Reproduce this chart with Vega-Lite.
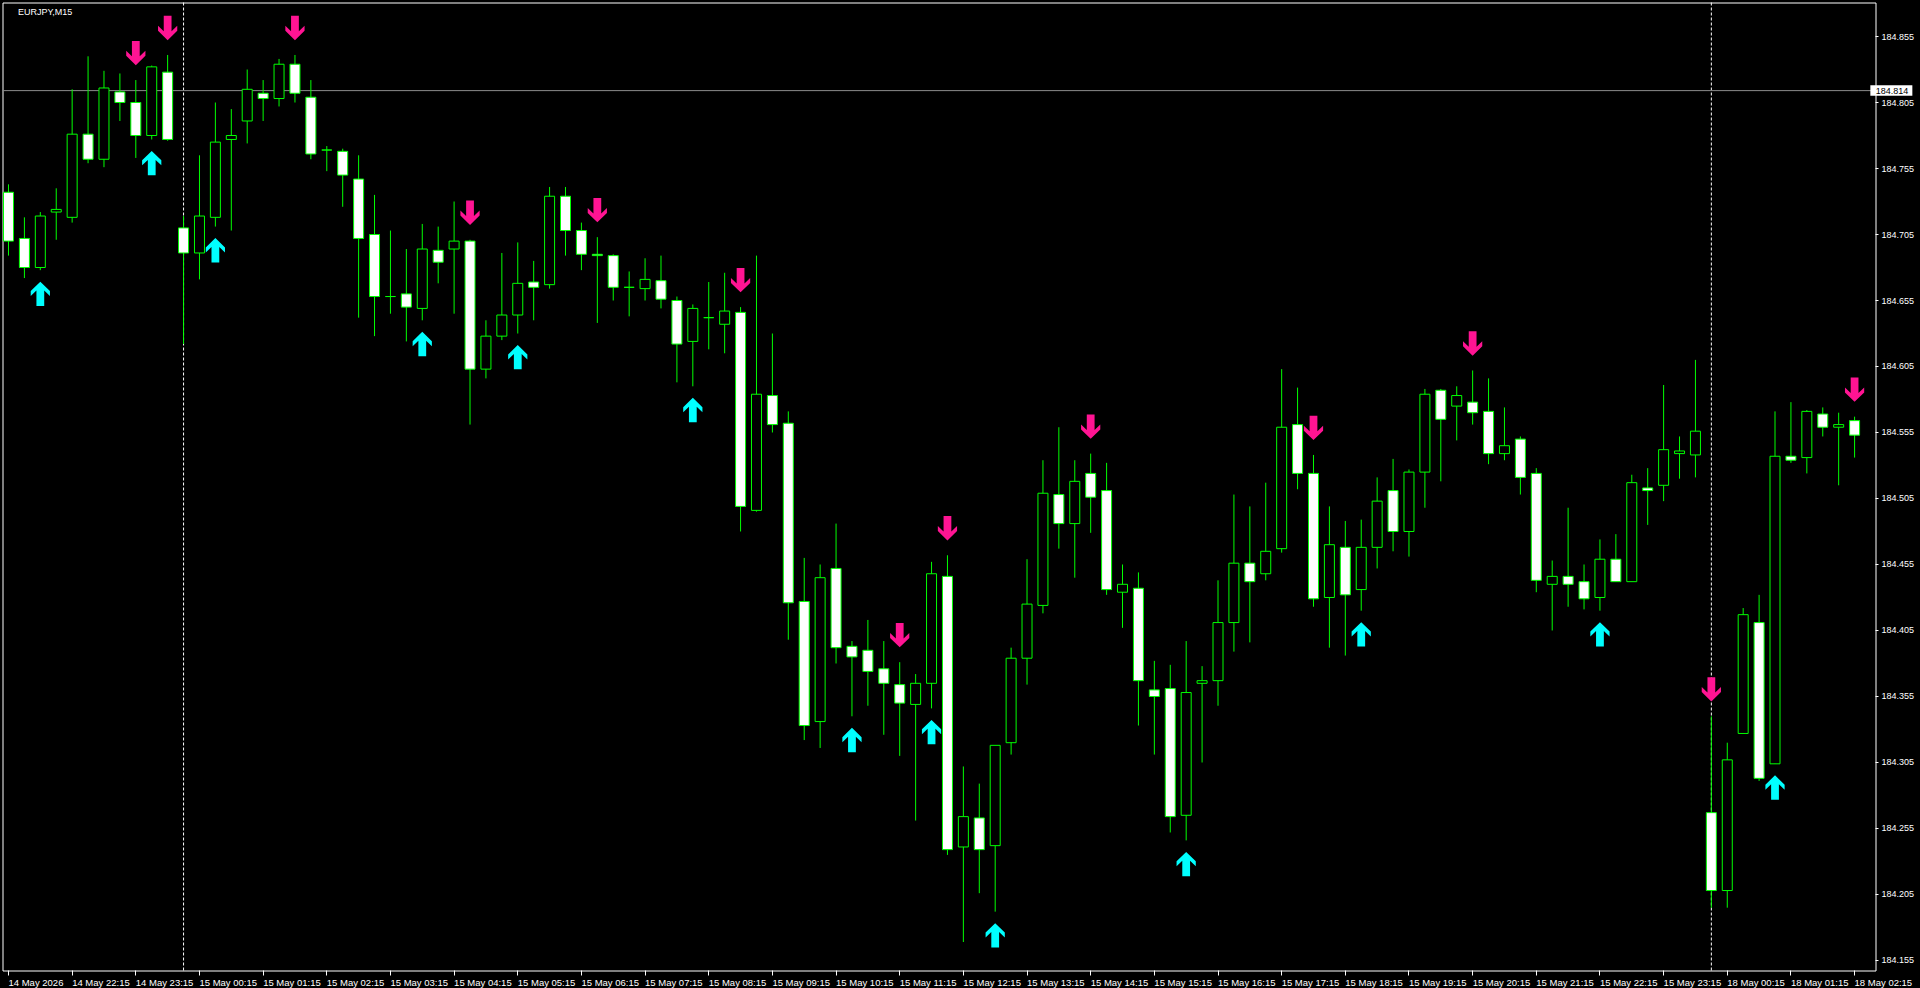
{
  "$schema": "https://vega.github.io/schema/vega-lite/v6.json",
  "width": 1873,
  "height": 968,
  "autosize": "none",
  "padding": {"left": 2.5, "top": 2.5, "right": 44.5, "bottom": 17.5},
  "background": "#000000",
  "title": {"text": "EURJPY,M15", "anchor": "start", "frame": "group", "offset": -8, "dx": 15.5, "dy": 10.7, "baseline": "middle", "color": "#FFFFFF", "font": "Liberation Sans", "fontSize": 9, "fontWeight": "normal"},
  "datasets": {
    "seps": [{"i": 11}, {"i": 107}],
    "level": [{"p": 184.814}],
    "bars": [
      {"i":0,"o":184.737,"h":184.743,"l":184.689,"c":184.700,"sig":""},
      {"i":1,"o":184.702,"h":184.718,"l":184.672,"c":184.680,"sig":""},
      {"i":2,"o":184.680,"h":184.722,"l":184.678,"c":184.719,"sig":"up"},
      {"i":3,"o":184.722,"h":184.740,"l":184.701,"c":184.724,"sig":""},
      {"i":4,"o":184.718,"h":184.815,"l":184.714,"c":184.781,"sig":""},
      {"i":5,"o":184.781,"h":184.840,"l":184.759,"c":184.762,"sig":""},
      {"i":6,"o":184.762,"h":184.829,"l":184.756,"c":184.816,"sig":""},
      {"i":7,"o":184.813,"h":184.827,"l":184.791,"c":184.805,"sig":""},
      {"i":8,"o":184.805,"h":184.822,"l":184.763,"c":184.780,"sig":"down"},
      {"i":9,"o":184.780,"h":184.833,"l":184.777,"c":184.832,"sig":"up"},
      {"i":10,"o":184.828,"h":184.841,"l":184.776,"c":184.777,"sig":"down"},
      {"i":11,"o":184.710,"h":184.719,"l":184.622,"c":184.691,"sig":""},
      {"i":12,"o":184.691,"h":184.765,"l":184.671,"c":184.719,"sig":""},
      {"i":13,"o":184.718,"h":184.805,"l":184.711,"c":184.775,"sig":"up"},
      {"i":14,"o":184.777,"h":184.800,"l":184.708,"c":184.780,"sig":""},
      {"i":15,"o":184.791,"h":184.830,"l":184.774,"c":184.815,"sig":""},
      {"i":16,"o":184.812,"h":184.822,"l":184.791,"c":184.808,"sig":""},
      {"i":17,"o":184.808,"h":184.838,"l":184.802,"c":184.834,"sig":""},
      {"i":18,"o":184.834,"h":184.841,"l":184.805,"c":184.812,"sig":"down"},
      {"i":19,"o":184.809,"h":184.822,"l":184.762,"c":184.766,"sig":""},
      {"i":20,"o":184.769,"h":184.772,"l":184.753,"c":184.769,"sig":""},
      {"i":21,"o":184.768,"h":184.770,"l":184.726,"c":184.750,"sig":""},
      {"i":22,"o":184.747,"h":184.765,"l":184.642,"c":184.702,"sig":""},
      {"i":23,"o":184.705,"h":184.735,"l":184.628,"c":184.658,"sig":""},
      {"i":24,"o":184.658,"h":184.708,"l":184.645,"c":184.658,"sig":""},
      {"i":25,"o":184.660,"h":184.694,"l":184.624,"c":184.650,"sig":""},
      {"i":26,"o":184.649,"h":184.713,"l":184.640,"c":184.694,"sig":"up"},
      {"i":27,"o":184.693,"h":184.711,"l":184.668,"c":184.684,"sig":""},
      {"i":28,"o":184.694,"h":184.730,"l":184.645,"c":184.700,"sig":""},
      {"i":29,"o":184.700,"h":184.701,"l":184.561,"c":184.603,"sig":"down"},
      {"i":30,"o":184.603,"h":184.640,"l":184.596,"c":184.628,"sig":""},
      {"i":31,"o":184.628,"h":184.691,"l":184.625,"c":184.644,"sig":""},
      {"i":32,"o":184.644,"h":184.699,"l":184.630,"c":184.668,"sig":"up"},
      {"i":33,"o":184.669,"h":184.685,"l":184.640,"c":184.665,"sig":""},
      {"i":34,"o":184.667,"h":184.741,"l":184.664,"c":184.734,"sig":""},
      {"i":35,"o":184.734,"h":184.741,"l":184.689,"c":184.708,"sig":""},
      {"i":36,"o":184.708,"h":184.714,"l":184.678,"c":184.690,"sig":""},
      {"i":37,"o":184.690,"h":184.703,"l":184.638,"c":184.689,"sig":"down"},
      {"i":38,"o":184.689,"h":184.690,"l":184.655,"c":184.665,"sig":""},
      {"i":39,"o":184.665,"h":184.677,"l":184.643,"c":184.665,"sig":""},
      {"i":40,"o":184.664,"h":184.687,"l":184.655,"c":184.671,"sig":""},
      {"i":41,"o":184.670,"h":184.689,"l":184.649,"c":184.656,"sig":""},
      {"i":42,"o":184.655,"h":184.658,"l":184.593,"c":184.622,"sig":""},
      {"i":43,"o":184.624,"h":184.652,"l":184.590,"c":184.649,"sig":"up"},
      {"i":44,"o":184.642,"h":184.669,"l":184.618,"c":184.642,"sig":""},
      {"i":45,"o":184.637,"h":184.676,"l":184.615,"c":184.647,"sig":""},
      {"i":46,"o":184.646,"h":184.650,"l":184.480,"c":184.499,"sig":"down"},
      {"i":47,"o":184.496,"h":184.689,"l":184.495,"c":184.584,"sig":""},
      {"i":48,"o":184.583,"h":184.630,"l":184.555,"c":184.561,"sig":""},
      {"i":49,"o":184.562,"h":184.571,"l":184.398,"c":184.426,"sig":""},
      {"i":50,"o":184.427,"h":184.460,"l":184.322,"c":184.333,"sig":""},
      {"i":51,"o":184.336,"h":184.455,"l":184.316,"c":184.445,"sig":""},
      {"i":52,"o":184.452,"h":184.486,"l":184.380,"c":184.392,"sig":""},
      {"i":53,"o":184.393,"h":184.397,"l":184.340,"c":184.385,"sig":"up"},
      {"i":54,"o":184.390,"h":184.413,"l":184.348,"c":184.374,"sig":""},
      {"i":55,"o":184.376,"h":184.397,"l":184.326,"c":184.365,"sig":""},
      {"i":56,"o":184.364,"h":184.381,"l":184.310,"c":184.350,"sig":"down"},
      {"i":57,"o":184.349,"h":184.372,"l":184.261,"c":184.365,"sig":""},
      {"i":58,"o":184.365,"h":184.457,"l":184.346,"c":184.448,"sig":"up"},
      {"i":59,"o":184.446,"h":184.462,"l":184.235,"c":184.239,"sig":"down"},
      {"i":60,"o":184.241,"h":184.302,"l":184.169,"c":184.264,"sig":""},
      {"i":61,"o":184.263,"h":184.289,"l":184.206,"c":184.239,"sig":""},
      {"i":62,"o":184.242,"h":184.318,"l":184.192,"c":184.318,"sig":"up"},
      {"i":63,"o":184.320,"h":184.392,"l":184.311,"c":184.384,"sig":""},
      {"i":64,"o":184.384,"h":184.459,"l":184.364,"c":184.425,"sig":""},
      {"i":65,"o":184.424,"h":184.534,"l":184.418,"c":184.509,"sig":""},
      {"i":66,"o":184.508,"h":184.559,"l":184.467,"c":184.486,"sig":""},
      {"i":67,"o":184.486,"h":184.534,"l":184.445,"c":184.518,"sig":""},
      {"i":68,"o":184.524,"h":184.539,"l":184.479,"c":184.506,"sig":"down"},
      {"i":69,"o":184.511,"h":184.532,"l":184.432,"c":184.436,"sig":""},
      {"i":70,"o":184.434,"h":184.455,"l":184.407,"c":184.440,"sig":""},
      {"i":71,"o":184.437,"h":184.449,"l":184.333,"c":184.367,"sig":""},
      {"i":72,"o":184.360,"h":184.382,"l":184.311,"c":184.355,"sig":""},
      {"i":73,"o":184.361,"h":184.379,"l":184.252,"c":184.264,"sig":""},
      {"i":74,"o":184.265,"h":184.397,"l":184.246,"c":184.358,"sig":"up"},
      {"i":75,"o":184.365,"h":184.378,"l":184.305,"c":184.367,"sig":""},
      {"i":76,"o":184.367,"h":184.443,"l":184.348,"c":184.411,"sig":""},
      {"i":77,"o":184.411,"h":184.508,"l":184.389,"c":184.456,"sig":""},
      {"i":78,"o":184.456,"h":184.499,"l":184.396,"c":184.442,"sig":""},
      {"i":79,"o":184.448,"h":184.517,"l":184.443,"c":184.465,"sig":""},
      {"i":80,"o":184.467,"h":184.603,"l":184.464,"c":184.559,"sig":""},
      {"i":81,"o":184.561,"h":184.589,"l":184.512,"c":184.524,"sig":""},
      {"i":82,"o":184.524,"h":184.538,"l":184.423,"c":184.429,"sig":"down"},
      {"i":83,"o":184.430,"h":184.499,"l":184.392,"c":184.470,"sig":""},
      {"i":84,"o":184.468,"h":184.488,"l":184.386,"c":184.432,"sig":""},
      {"i":85,"o":184.436,"h":184.489,"l":184.420,"c":184.468,"sig":"up"},
      {"i":86,"o":184.468,"h":184.521,"l":184.452,"c":184.503,"sig":""},
      {"i":87,"o":184.511,"h":184.535,"l":184.465,"c":184.480,"sig":""},
      {"i":88,"o":184.480,"h":184.527,"l":184.461,"c":184.525,"sig":""},
      {"i":89,"o":184.525,"h":184.588,"l":184.498,"c":184.584,"sig":""},
      {"i":90,"o":184.587,"h":184.588,"l":184.518,"c":184.565,"sig":""},
      {"i":91,"o":184.575,"h":184.590,"l":184.549,"c":184.583,"sig":""},
      {"i":92,"o":184.578,"h":184.602,"l":184.561,"c":184.570,"sig":"down"},
      {"i":93,"o":184.571,"h":184.596,"l":184.531,"c":184.539,"sig":""},
      {"i":94,"o":184.539,"h":184.574,"l":184.534,"c":184.545,"sig":""},
      {"i":95,"o":184.550,"h":184.552,"l":184.508,"c":184.521,"sig":""},
      {"i":96,"o":184.524,"h":184.528,"l":184.434,"c":184.443,"sig":""},
      {"i":97,"o":184.440,"h":184.458,"l":184.405,"c":184.446,"sig":""},
      {"i":98,"o":184.446,"h":184.498,"l":184.423,"c":184.440,"sig":""},
      {"i":99,"o":184.442,"h":184.455,"l":184.421,"c":184.429,"sig":""},
      {"i":100,"o":184.430,"h":184.474,"l":184.420,"c":184.459,"sig":"up"},
      {"i":101,"o":184.459,"h":184.478,"l":184.442,"c":184.442,"sig":""},
      {"i":102,"o":184.442,"h":184.523,"l":184.442,"c":184.517,"sig":""},
      {"i":103,"o":184.513,"h":184.528,"l":184.485,"c":184.511,"sig":""},
      {"i":104,"o":184.515,"h":184.591,"l":184.503,"c":184.542,"sig":""},
      {"i":105,"o":184.539,"h":184.552,"l":184.520,"c":184.541,"sig":""},
      {"i":106,"o":184.538,"h":184.610,"l":184.521,"c":184.556,"sig":""},
      {"i":107,"o":184.267,"h":184.340,"l":184.195,"c":184.208,"sig":"down"},
      {"i":108,"o":184.208,"h":184.320,"l":184.195,"c":184.307,"sig":""},
      {"i":109,"o":184.327,"h":184.422,"l":184.327,"c":184.417,"sig":""},
      {"i":110,"o":184.411,"h":184.432,"l":184.291,"c":184.293,"sig":""},
      {"i":111,"o":184.304,"h":184.571,"l":184.304,"c":184.537,"sig":"up"},
      {"i":112,"o":184.537,"h":184.578,"l":184.532,"c":184.534,"sig":""},
      {"i":113,"o":184.536,"h":184.572,"l":184.524,"c":184.571,"sig":""},
      {"i":114,"o":184.569,"h":184.574,"l":184.552,"c":184.559,"sig":""},
      {"i":115,"o":184.559,"h":184.570,"l":184.515,"c":184.561,"sig":""},
      {"i":116,"o":184.564,"h":184.567,"l":184.536,"c":184.553,"sig":"down"}
    ]
  },
  "layer": [
    {
      "data": {"name": "seps"},
      "mark": {"type": "rule", "color": "#FFFFFF", "strokeWidth": 1, "strokeDash": [3, 2]},
      "encoding": {
        "x": {"field": "i", "type": "quantitative", "scale": {"domain": [-0.0625, 117], "nice": false, "zero": false}, "axis": {"title": null}}
      }
    },
    {
      "data": {"name": "level"},
      "mark": {"type": "rule", "color": "#8C8C8C", "strokeWidth": 1},
      "encoding": {
        "y": {"field": "p", "type": "quantitative", "scale": {"domain": [184.14742, 184.88076], "nice": false, "zero": false}, "axis": {"title": null}}
      }
    },
    {
      "data": {"name": "bars"},
      "mark": {"type": "rule", "color": "#00FF00", "strokeWidth": 1, "clip": true},
      "encoding": {
        "x": {"field": "i", "type": "quantitative", "scale": {"domain": [-0.0625, 117], "nice": false, "zero": false},
          "axis": {"title": null, "orient": "bottom", "values": [0,4,8,12,16,20,24,28,32,36,40,44,48,52,56,60,64,68,72,76,80,84,88,92,96,100,104,108,112,116],
            "labelExpr": "datum.value == 0 ? '14 May 2026' : datum.value < 12 ? '14 May ' + (21 + datum.value / 4) + ':15' : datum.value < 107 ? '15 May ' + (datum.value < 52 ? '0' : '') + ((datum.value - 12) / 4) + ':15' : '18 May 0' + ((datum.value - 108) / 4) + ':15'",
            "tickSize": 5, "labelAlign": "left", "labelBaseline": "middle", "labelPadding": 7, "labelFontSize": 9.5}},
        "y": {"field": "l", "type": "quantitative", "scale": {"domain": [184.14742, 184.88076], "nice": false, "zero": false},
          "axis": {"title": null, "orient": "right", "values": [184.155,184.18,184.205,184.23,184.255,184.28,184.305,184.33,184.355,184.38,184.405,184.43,184.455,184.48,184.505,184.53,184.555,184.58,184.605,184.63,184.655,184.68,184.705,184.73,184.755,184.78,184.805,184.83,184.855],
            "format": ".3f", "tickSize": 3, "labelPadding": 3, "labelAlign": "left", "labelBaseline": "middle", "labelFontSize": 9}},
        "y2": {"field": "h"}
      }
    },
    {
      "data": {"name": "bars"},
      "mark": {"type": "bar", "width": 10, "stroke": "#00FF00", "strokeWidth": 1, "clip": true},
      "encoding": {
        "x": {"field": "i", "type": "quantitative", "scale": {"domain": [-0.0625, 117], "nice": false, "zero": false}, "axis": {"title": null}},
        "y": {"field": "o", "type": "quantitative", "scale": {"domain": [184.14742, 184.88076], "nice": false, "zero": false}, "axis": {"title": null}},
        "y2": {"field": "c"},
        "fill": {"condition": {"test": "datum.c < datum.o", "value": "#FFFFFF"}, "value": "#000000"}
      }
    },
    {
      "data": {"name": "bars"},
      "transform": [{"filter": "datum.sig == 'up'"}],
      "mark": {"type": "point", "shape": "M0,-1L0.79,-0.23L0.79,0.18L0.32,-0.27L0.32,1L-0.32,1L-0.32,-0.27L-0.79,0.18L-0.79,-0.23Z", "filled": true, "color": "#00FFFF", "strokeWidth": 0, "opacity": 1, "size": 592, "yOffset": 23.7},
      "encoding": {
        "x": {"field": "i", "type": "quantitative", "scale": {"domain": [-0.0625, 117], "nice": false, "zero": false}, "axis": {"title": null}},
        "y": {"field": "l", "type": "quantitative", "scale": {"domain": [184.14742, 184.88076], "nice": false, "zero": false}, "axis": {"title": null}}
      }
    },
    {
      "data": {"name": "bars"},
      "transform": [{"filter": "datum.sig == 'down'"}],
      "mark": {"type": "point", "shape": "M0,1L0.79,0.23L0.79,-0.18L0.32,0.27L0.32,-1L-0.32,-1L-0.32,0.27L-0.79,-0.18L-0.79,0.23Z", "filled": true, "color": "#FF1493", "strokeWidth": 0, "opacity": 1, "size": 592, "yOffset": -27},
      "encoding": {
        "x": {"field": "i", "type": "quantitative", "scale": {"domain": [-0.0625, 117], "nice": false, "zero": false}, "axis": {"title": null}},
        "y": {"field": "h", "type": "quantitative", "scale": {"domain": [184.14742, 184.88076], "nice": false, "zero": false}, "axis": {"title": null}}
      }
    },
    {
      "data": {"name": "level"},
      "mark": {"type": "point", "shape": "M-1,-0.25L1,-0.25L1,0.25L-1,0.25Z", "filled": true, "color": "#FFFFFF", "strokeWidth": 0, "opacity": 1, "size": 1764, "clip": false},
      "encoding": {
        "x": {"datum": 118.31, "type": "quantitative", "scale": {"domain": [-0.0625, 117], "nice": false, "zero": false}, "axis": {"title": null}},
        "y": {"field": "p", "type": "quantitative", "scale": {"domain": [184.14742, 184.88076], "nice": false, "zero": false}, "axis": {"title": null}}
      }
    },
    {
      "data": {"name": "level"},
      "mark": {"type": "text", "align": "left", "baseline": "middle", "color": "#000000", "font": "Liberation Sans", "fontSize": 9, "clip": false},
      "encoding": {
        "x": {"datum": 117.33, "type": "quantitative", "scale": {"domain": [-0.0625, 117], "nice": false, "zero": false}, "axis": {"title": null}},
        "y": {"field": "p", "type": "quantitative", "scale": {"domain": [184.14742, 184.88076], "nice": false, "zero": false}, "axis": {"title": null}},
        "text": {"field": "p", "type": "quantitative", "format": ".3f"}
      }
    }
  ],
  "config": {
    "view": {"stroke": "#FFFFFF", "strokeWidth": 1, "fill": "#000000"},
    "axis": {"grid": false, "domain": false, "labelColor": "#FFFFFF", "tickColor": "#FFFFFF", "labelFont": "Liberation Sans", "translate": 0, "labelOverlap": false, "labelFlush": false, "labelBound": false}
  }
}
